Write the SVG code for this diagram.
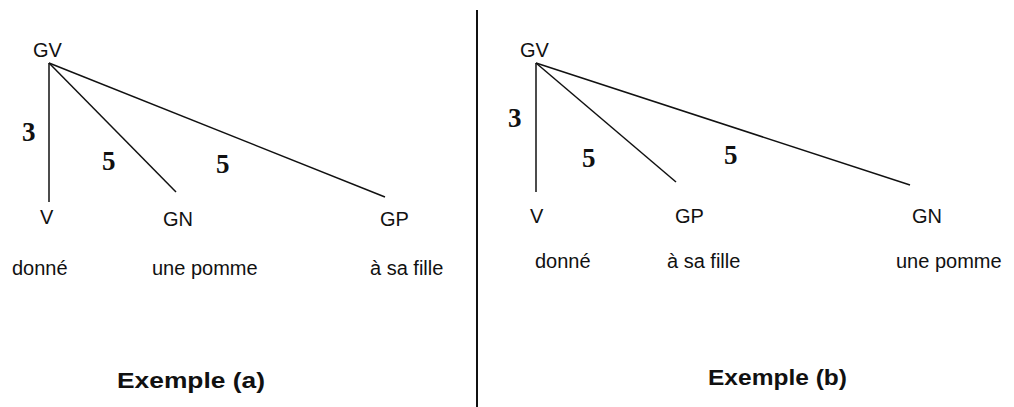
<svg xmlns="http://www.w3.org/2000/svg" width="1014" height="407" viewBox="0 0 1014 407">
<style>
.t{font-family:"Liberation Sans",Arial,sans-serif;font-size:20px;fill:#111}
.n{font-family:"Liberation Serif","Times New Roman",serif;font-size:27px;font-weight:bold;fill:#111}
.h{font-family:"Liberation Sans",Arial,sans-serif;font-size:22px;font-weight:bold;fill:#111}
.c{stroke:#111;stroke-width:1.5;fill:none}
</style>
<rect width="1014" height="407" fill="#fff"/>
<g id="connectors">
<line class="c" x1="49" y1="63" x2="49" y2="202"/>
<line class="c" x1="49" y1="63" x2="176" y2="192"/>
<line class="c" x1="49" y1="63" x2="385" y2="197"/>
<line class="c" x1="536" y1="63" x2="536" y2="192"/>
<line class="c" x1="536" y1="63" x2="676" y2="182"/>
<line class="c" x1="536" y1="63" x2="910" y2="185"/>
<line x1="477" y1="10" x2="477" y2="407" stroke="#111" stroke-width="2"/>
</g>
<g id="a-GV"><text class="t" x="33" y="57">GV</text></g>
<g id="a-V"><text class="t" x="40" y="224">V</text><text class="t" x="12" y="275">donné</text></g>
<g id="a-GN"><text class="t" x="163" y="226">GN</text><text class="t" x="152" y="275">une pomme</text></g>
<g id="a-GP"><text class="t" x="380" y="226">GP</text><text class="t" x="370" y="275">à sa fille</text></g>
<g id="a-labels">
<text class="n" x="22" y="141">3</text>
<text class="n" x="102" y="170">5</text>
<text class="n" x="216" y="173">5</text>
</g>
<g id="a-title"><text class="h" x="117" y="388" textLength="148" lengthAdjust="spacingAndGlyphs">Exemple (a)</text></g>
<g id="b-GV"><text class="t" x="520" y="57">GV</text></g>
<g id="b-V"><text class="t" x="530" y="223">V</text><text class="t" x="535" y="268">donné</text></g>
<g id="b-GP"><text class="t" x="675" y="223">GP</text><text class="t" x="667" y="268">à sa fille</text></g>
<g id="b-GN"><text class="t" x="912" y="223">GN</text><text class="t" x="896" y="268">une pomme</text></g>
<g id="b-labels">
<text class="n" x="508" y="127">3</text>
<text class="n" x="582" y="167">5</text>
<text class="n" x="724" y="164">5</text>
</g>
<g id="b-title"><text class="h" x="708" y="385" textLength="139" lengthAdjust="spacingAndGlyphs">Exemple (b)</text></g>
</svg>
